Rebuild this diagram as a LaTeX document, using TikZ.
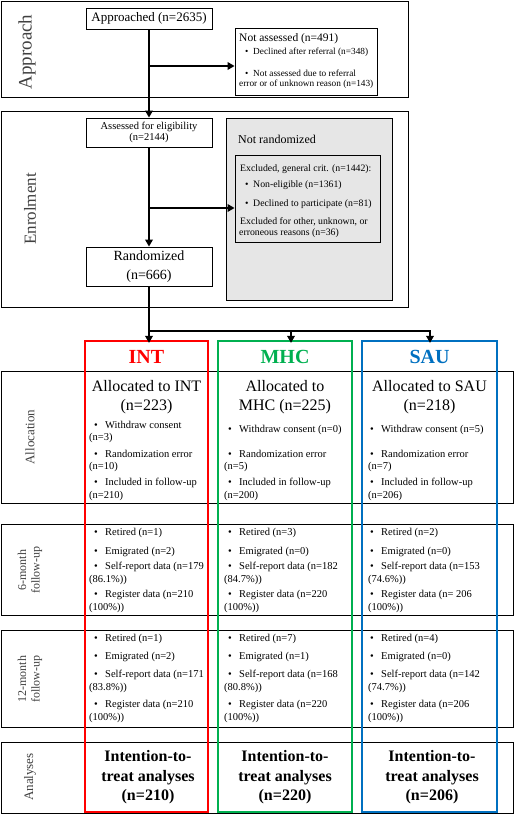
\documentclass[tikz,border=0pt]{standalone}
\usepackage{fontspec}
\setmainfont{Liberation Serif}
\usetikzlibrary{arrows.meta}
\definecolor{intred}{RGB}{255,0,0}
\definecolor{mhcgreen}{RGB}{0,176,80}
\definecolor{saublue}{RGB}{0,112,192}
\definecolor{exgrey}{RGB}{230,230,230}
\definecolor{labgrey}{RGB}{64,64,64}
\tikzset{
  frame/.style={draw=black, line width=0.8pt, inner sep=0pt},
  flowbox/.style={draw=black, line width=0.8pt, fill=white, inner sep=0pt, align=center},
  conn/.style={line width=2.6pt},
  arr/.style={line width=2.6pt, -{Triangle[length=7pt,width=7.5pt]}},
  grpbox/.style={line width=2.2pt, inner sep=0pt},
  txt/.style={anchor=west, inner sep=0pt},
  ctxt/.style={anchor=center, inner sep=0pt, align=center},
  rowlab/.style={rotate=90, text=labgrey, inner sep=0pt, align=center},
  itm/.style={anchor=west, inner sep=0pt, font=\fontsize{10.5}{12}\selectfont},
}
\newcommand\bitemx[4]{\node[itm] (#1) at (#2,#3) {\makebox[11pt][l]{\textbullet}#4};}
\newcommand\citemx[4]{\node[itm] (#1) at (#2,#3) {#4};}
\begin{document}
\begin{tikzpicture}[x=1pt,y=-1pt]
\useasboundingbox (0,0) rectangle (514,814);

% ---------- Approach ----------
\node[frame, minimum width=407pt, minimum height=96pt] (approw) at (204.5,49) {};
\node[rowlab, font=\fontsize{19}{22}\selectfont] (lapp) at (27,52) {Approach};
\node[flowbox, minimum width=126pt, minimum height=21pt, font=\fontsize{13}{15}\selectfont] (appr) at (149,18.5) {Approached (n=2635)};
\node[flowbox, minimum width=142pt, minimum height=67pt] (notass) at (306,61.5) {};
\node[txt, font=\fontsize{11.5}{13}\selectfont] (na0) at (239,39) {Not assessed (n=491)};
\node[txt, font=\fontsize{9.3}{11}\selectfont] (na1) at (245,52) {\makebox[8pt][l]{\textbullet}Declined after referral (n=348)};
\node[txt, font=\fontsize{9.3}{11}\selectfont] (na2) at (245,73) {\makebox[8pt][l]{\textbullet}Not assessed due to referral};
\node[txt, font=\fontsize{9.3}{11}\selectfont] (na3) at (239,84) {error or of unknown reason (n=143)};

% ---------- Enrolment ----------
\node[frame, minimum width=407pt, minimum height=196pt] (enrrow) at (204.5,209) {};
\node[rowlab, font=\fontsize{17}{20}\selectfont] (lenr) at (30,209) {Enrolment};
\node[flowbox, minimum width=126pt, minimum height=29pt, font=\fontsize{10.5}{9.5}\selectfont] (assess) at (149,132.5) {Assessed for eligibility\\(n=2144)};
\node[draw=black, line width=0.6pt, fill=exgrey, inner sep=0pt, minimum width=166pt, minimum height=182pt] (notrand) at (309,209) {};
\node[txt, font=\fontsize{12}{14}\selectfont] (nr0) at (238,139) {Not randomized};
\node[draw=black, line width=0.8pt, fill=exgrey, inner sep=0pt, minimum width=145pt, minimum height=87pt] (excl) at (307.5,198.5) {};
\node[txt, font=\fontsize{9.8}{11}\selectfont] (ex0) at (240,169) {Excluded, general crit. (n=1442):};
\node[txt, font=\fontsize{9.8}{11}\selectfont] (ex1) at (245,185) {\makebox[8pt][l]{\textbullet}Non-eligible (n=1361)};
\node[txt, font=\fontsize{9.8}{11}\selectfont] (ex2) at (245,204) {\makebox[8pt][l]{\textbullet}Declined to participate (n=81)};
\node[txt, font=\fontsize{9.8}{11}\selectfont] (ex3) at (240,222) {Excluded for other, unknown, or};
\node[txt, font=\fontsize{9.8}{11}\selectfont] (ex4) at (239,233) {erroneous reasons (n=36)};
\node[flowbox, minimum width=126pt, minimum height=39pt, font=\fontsize{14}{19}\selectfont] (rand) at (149,266.5) {Randomized\\(n=666)};

% ---------- rows ----------
\node[frame, minimum width=512pt, minimum height=132pt] (rowalloc) at (257,437) {};
\node[frame, minimum width=512pt, minimum height=91pt] (row6) at (257,569.5) {};
\node[frame, minimum width=512pt, minimum height=97pt] (row12) at (257,678.5) {};
\node[frame, minimum width=512pt, minimum height=71pt] (rowan) at (257,777.5) {};
\node[rowlab, font=\fontsize{13}{15}\selectfont] (lall) at (30,437) {Allocation};
\node[rowlab, font=\fontsize{12}{13.5}\selectfont] (l6) at (30,570) {6-month\\follow-up};
\node[rowlab, font=\fontsize{12}{13.5}\selectfont] (l12) at (30,679) {12-month\\follow-up};
\node[rowlab, font=\fontsize{13}{15}\selectfont] (lan) at (30,777) {Analyses};

% ---------- group boxes ----------
\node[grpbox, draw=intred, minimum width=123pt, minimum height=471pt] (intbox) at (146.5,576.5) {};
\node[grpbox, draw=mhcgreen, minimum width=134pt, minimum height=471pt] (mhcbox) at (285,576.5) {};
\node[grpbox, draw=saublue, minimum width=135pt, minimum height=471pt] (saubox) at (429.5,576.5) {};
\node[font=\fontsize{20}{24}\selectfont\bfseries, text=intred] (hint) at (146.5,357) {INT};
\node[font=\fontsize{20}{24}\selectfont\bfseries, text=mhcgreen] (hmhc) at (285,357) {MHC};
\node[font=\fontsize{20}{24}\selectfont\bfseries, text=saublue] (hsau) at (429.5,357) {SAU};

% ---------- connectors ----------
\draw[arr] (appr.south) -- (assess.north);
\coordinate (j1) at (149,66);
\draw[arr] (j1) -- (j1 -| notass.west);
\draw[arr] (assess.south) -- (rand.north);
\coordinate (j2) at (149,208);
\draw[arr] (j2) -- (j2 -| excl.west);
\coordinate (j3) at (149,331);
\coordinate (b2) at (291,331);
\coordinate (b3) at (430,331);
\draw[conn] (rand.south) -- (j3);
\draw[line width=2.2pt, line cap=rect] (j3) -- (b3);
\draw[arr, shorten >=-3pt] (j3) -- (j3 |- intbox.north);
\draw[arr, shorten >=-3pt] (b2) -- (b2 |- mhcbox.north);
\draw[arr, shorten >=-3pt] (b3) -- (b3 |- saubox.north);

% ---------- allocation ----------
\node[ctxt, font=\fontsize{16}{19}\selectfont] (aint) at (146.5,397.5) {Allocated to INT\\(n=223)};
\node[ctxt, font=\fontsize{16}{19}\selectfont] (amhc) at (285,397.5) {Allocated to\\MHC (n=225)};
\node[ctxt, font=\fontsize{16}{19}\selectfont] (asau) at (429.5,397.5) {Allocated to SAU\\(n=218)};
\bitemx{ai1}{94}{425}{Withdraw consent}
\citemx{ai2}{89}{438}{(n=3)}
\bitemx{ai3}{94}{454}{Randomization error}
\citemx{ai4}{89}{467}{(n=10)}
\bitemx{ai5}{94}{483}{Included in follow-up}
\citemx{ai6}{89}{496}{(n=210)}
\bitemx{am1}{228}{430}{Withdraw consent (n=0)}
\bitemx{am3}{228}{454}{Randomization error}
\citemx{am4}{224}{467}{(n=5)}
\bitemx{am5}{228}{483}{Included in follow-up}
\citemx{am6}{224}{496}{(n=200)}
\bitemx{as1}{370}{430}{Withdraw consent (n=5)}
\bitemx{as3}{370}{454}{Randomization error}
\citemx{as4}{368}{467}{(n=7)}
\bitemx{as5}{370}{483}{Included in follow-up}
\citemx{as6}{368}{496}{(n=206)}

% ---------- 6-month ----------
\bitemx{si1}{94}{533}{Retired (n=1)}
\bitemx{si2}{94}{552}{Emigrated (n=2)}
\bitemx{si3}{94}{567}{Self-report data (n=179}
\citemx{si4}{89}{580}{(86.1\%))}
\bitemx{si5}{94}{595}{Register data (n=210}
\citemx{si6}{89}{608}{(100\%))}
\bitemx{sm1}{228}{533}{Retired (n=3)}
\bitemx{sm2}{228}{552}{Emigrated (n=0)}
\bitemx{sm3}{228}{567}{Self-report data (n=182}
\citemx{sm4}{224}{580}{(84.7\%))}
\bitemx{sm5}{228}{595}{Register data (n=220}
\citemx{sm6}{224}{608}{(100\%))}
\bitemx{ss1}{370}{533}{Retired (n=2)}
\bitemx{ss2}{370}{552}{Emigrated (n=0)}
\bitemx{ss3}{370}{567}{Self-report data (n=153}
\citemx{ss4}{368}{580}{(74.6\%))}
\bitemx{ss5}{370}{595}{Register data (n= 206}
\citemx{ss6}{368}{608}{(100\%))}

% ---------- 12-month ----------
\bitemx{ti1}{94}{639}{Retired (n=1)}
\bitemx{ti2}{94}{657}{Emigrated (n=2)}
\bitemx{ti3}{94}{675}{Self-report data (n=171}
\citemx{ti4}{89}{688}{(83.8\%))}
\bitemx{ti5}{94}{705}{Register data (n=210}
\citemx{ti6}{89}{718}{(100\%))}
\bitemx{tm1}{228}{639}{Retired (n=7)}
\bitemx{tm2}{228}{657}{Emigrated (n=1)}
\bitemx{tm3}{228}{675}{Self-report data (n=168}
\citemx{tm4}{224}{688}{(80.8\%))}
\bitemx{tm5}{228}{705}{Register data (n=220}
\citemx{tm6}{224}{718}{(100\%))}
\bitemx{ts1}{370}{639}{Retired (n=4)}
\bitemx{ts2}{370}{657}{Emigrated (n=0)}
\bitemx{ts3}{370}{675}{Self-report data (n=142}
\citemx{ts4}{368}{688}{(74.7\%))}
\bitemx{ts5}{370}{705}{Register data (n=206}
\citemx{ts6}{368}{718}{(100\%))}

% ---------- analyses ----------
\node[ctxt, font=\fontsize{16}{19.5}\selectfont\bfseries] (ani) at (148,777.5) {Intention-to-\\treat analyses\\(n=210)};
\node[ctxt, font=\fontsize{16}{19.5}\selectfont\bfseries] (anm) at (285,777.5) {Intention-to-\\treat analyses\\(n=220)};
\node[ctxt, font=\fontsize{16}{19.5}\selectfont\bfseries] (ans) at (432,777.5) {Intention-to-\\treat analyses\\(n=206)};
\end{tikzpicture}
\end{document}
